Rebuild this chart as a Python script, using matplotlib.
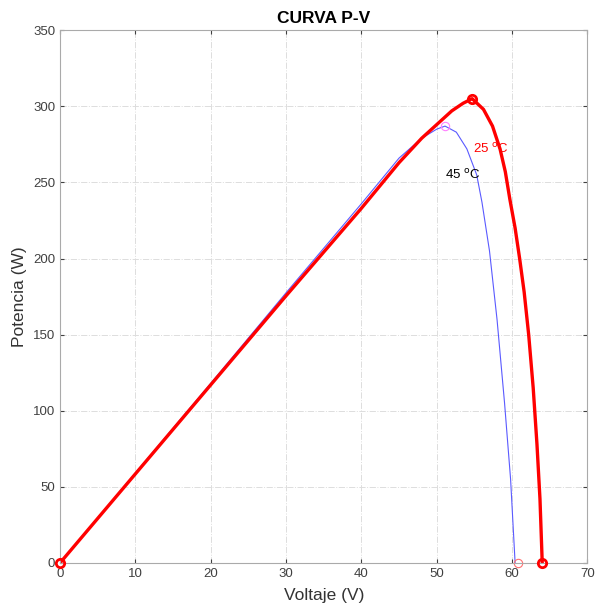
import matplotlib
matplotlib.use("Agg")
import matplotlib.pyplot as plt

plt.rcParams['font.family'] = ['Liberation Sans', 'DejaVu Sans']

# curva P-V a 25 oC
v25 = [0, 10, 20, 30, 40, 45, 48, 50, 52, 53.5, 54.7, 56.2, 57.4, 58.4, 59.1, 59.7,
       60.4, 61.0, 61.6, 62.2, 62.8, 63.3, 63.7, 64.0]
p25 = [0, 58.5, 117, 175.5, 233, 263, 279, 288, 297, 302, 305, 298, 287, 272, 257, 239,
       220, 200, 178, 150, 115, 78, 42, 0]

# curva P-V a 45 oC
v45 = [0, 10, 20, 30, 40, 45, 48, 50, 51.1, 52.6, 54.0, 55.3, 56.0, 57.0, 58.0, 59.0,
       59.8, 60.4]
p45 = [0, 59, 118, 177.5, 236, 266, 279, 285, 287, 283, 272, 255, 237, 205, 160, 105,
       55, 0]

# puntos notables
pts25_v = [0, 54.7, 64.0]
pts25_p = [0, 305, 0]
mpp45 = (51.1, 287)
voc45 = (60.8, 0)

fig = plt.figure(figsize=(5.97, 6.11), dpi=100)
ax = fig.add_axes([0.1005, 0.0786, 0.8835, 0.872])

ax.plot(v45, p45, color='#5a5aff', lw=0.8)
ax.plot(v25, p25, color='red', lw=2.4)
ax.plot(pts25_v, pts25_p, 'o', mfc='none', mec='red', ms=6, mew=2, clip_on=False, zorder=5)
ax.plot(*mpp45, 'o', mfc='none', mec='#ff80ff', ms=6, mew=0.8)
ax.plot(*voc45, 'o', mfc='none', mec='#ff7070', ms=6, mew=0.8, clip_on=False)

ax.text(54.8, 272, '25 $^{\\mathrm{o}}$C', color='red', fontsize=9.5, va='center')
ax.text(51.1, 255, '45 $^{\\mathrm{o}}$C', color='black', fontsize=9.5, va='center')

ax.set_xlim(0, 70)
ax.set_ylim(0, 350)
ax.set_xticks(range(0, 71, 10))
ax.set_yticks(range(0, 351, 50))
ax.grid(True, ls='-.', color='#dddddd', lw=0.7)
ax.tick_params(direction='in', top=True, right=True, labelsize=9.5,
               colors='#404040', length=3)
for s in ax.spines.values():
    s.set_color('#aaaaaa')

ax.set_title('CURVA P-V', fontsize=12.5, fontweight='bold', pad=5)
ax.set_xlabel('Voltaje (V)', fontsize=12.5, color='#333333', labelpad=6)
ax.set_ylabel('Potencia (W)', fontsize=12.5, color='#333333')

fig.savefig('out.png', dpi=100)
